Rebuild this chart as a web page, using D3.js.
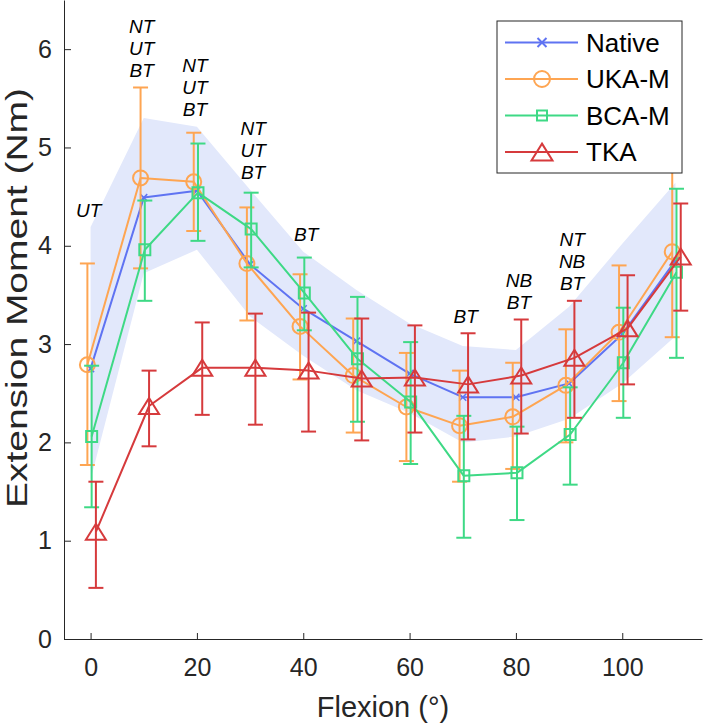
<!DOCTYPE html>
<html>
<head>
<meta charset="utf-8">
<script src="https://cdn.jsdelivr.net/npm/d3@7"></script>
<style>
  html, body { margin: 0; padding: 0; background: #fff; }
  svg { display: block; font-family: "Liberation Sans", Arial, Helvetica, sans-serif; }
  .axis path, .axis line { stroke: #262626; stroke-width: 1; }
  .axis text { fill: #262626; font-size: 25px; }
  .annot { font-style: italic; font-size: 19px; fill: #000; }
</style>
</head>
<body>
<svg id="chart"></svg>
<script>
const WIDTH = 703;
const HEIGHT = 725;
const MARGIN = { top: 0, right: 1, bottom: 86, left: 64 };

// flexion angles
const flexion = [0, 10, 20, 30, 40, 50, 60, 70, 80, 90, 100, 110];

// Native mean and shaded band
const nativeMean  = [2.75, 4.49, 4.56, 3.81, 3.36, 3.03, 2.70, 2.46, 2.46, 2.60, 3.10, 3.85];
const nativeUpper = [4.19, 5.30, 5.21, 4.57, 3.94, 3.55, 3.21, 2.98, 2.94, 3.38, 4.02, 4.64];
const nativeLower = [1.62, 3.72, 3.96, 3.28, 2.88, 2.53, 2.30, 2.00, 2.06, 2.24, 2.60, 3.08];

// UKA-M
const ukaMean  = [2.79, 4.69, 4.65, 3.82, 3.18, 2.68, 2.36, 2.17, 2.26, 2.58, 3.12, 3.94];
const ukaUpper = [3.82, 5.61, 5.15, 4.39, 3.71, 3.26, 2.91, 2.73, 2.81, 3.15, 3.80, 4.85];
const ukaLower = [1.77, 3.77, 4.15, 3.24, 2.64, 2.10, 1.81, 1.60, 1.73, 2.00, 2.42, 3.07];

// BCA-M
const bcaMean  = [2.06, 3.96, 4.54, 4.17, 3.52, 2.85, 2.41, 1.66, 1.69, 2.08, 2.81, 3.73];
const bcaUpper = [2.78, 4.46, 5.04, 4.54, 3.88, 3.48, 3.02, 2.27, 2.16, 2.56, 3.37, 4.58];
const bcaLower = [1.34, 3.44, 4.05, 3.78, 3.14, 2.21, 1.78, 1.03, 1.21, 1.57, 2.25, 2.86];

// TKA
const tkaMean  = [1.09, 2.37, 2.76, 2.76, 2.73, 2.65, 2.66, 2.59, 2.68, 2.86, 3.16, 3.89];
const tkaUpper = [1.60, 2.73, 3.22, 3.31, 3.32, 3.26, 3.19, 3.11, 3.25, 3.44, 3.70, 4.43];
const tkaLower = [0.52, 1.96, 2.28, 2.18, 2.11, 2.02, 2.10, 2.03, 2.09, 2.25, 2.59, 3.34];

// significance labels
const annotFlexion = [0, 10, 20, 30, 40, 70, 80, 90];
const annotLabels = [
  ['UT'],
  ['NT', 'UT', 'BT'],
  ['NT', 'UT', 'BT'],
  ['NT', 'UT', 'BT'],
  ['BT'],
  ['BT'],
  ['NB', 'BT'],
  ['NT', 'NB', 'BT']
];

const xTicks = [0, 20, 40, 60, 80, 100];
const yTicks = [0, 1, 2, 3, 4, 5, 6];

const series = [
  { name: 'Native', color: '#5f73f2', marker: 'x', shift: 0, mean: nativeMean, upper: null, lower: null },
  { name: 'UKA-M', color: '#fea552', marker: 'circle', shift: -0.6, mean: ukaMean, upper: ukaUpper, lower: ukaLower },
  { name: 'BCA-M', color: '#3ed985', marker: 'square', shift: 0.2, mean: bcaMean, upper: bcaUpper, lower: bcaLower },
  { name: 'TKA', color: '#d63a3c', marker: 'triangle', shift: 1, mean: tkaMean, upper: tkaUpper, lower: tkaLower }
];

const svg = d3.select('#chart').attr('width', WIDTH).attr('height', HEIGHT);

const x = d3.scaleLinear().domain([-5, 115]).range([MARGIN.left, WIDTH - MARGIN.right]);
const y = d3.scaleLinear().domain([0, 6.5]).range([HEIGHT - MARGIN.bottom, MARGIN.top]);

function markerPath(type, s) {
  if (type === 'x') {
    const h = s * 0.5;
    return `M${-h},${-h}L${h},${h}M${-h},${h}L${h},${-h}`;
  }
  if (type === 'circle') {
    const r = s * 0.5;
    return `M${r},0A${r},${r} 0 1,1 ${-r},0A${r},${r} 0 1,1 ${r},0Z`;
  }
  if (type === 'square') {
    const h = s * 0.5;
    return `M${-h},${-h}H${h}V${h}H${-h}Z`;
  }
  // triangle
  const w = s * 0.5, hh = s * 0.4;
  return `M0,${-hh}L${w},${hh}L${-w},${hh}Z`;
}
const markerSize = { x: 7, circle: 15, square: 11, triangle: 20 };

// band
const bandData = flexion.map((f, i) => ({ f, lo: nativeLower[i], hi: nativeUpper[i] }));
svg.append('path')
  .datum(bandData)
  .attr('fill', '#e2e8fb')
  .attr('d', d3.area().x(d => x(d.f)).y0(d => y(d.lo)).y1(d => y(d.hi)));

// series
const gSeries = svg.append('g');
series.forEach(s => {
  const g = gSeries.append('g');
  const pts = flexion.map((f, i) => ({
    f: f + s.shift,
    m: s.mean[i],
    hi: s.upper ? s.upper[i] : null,
    lo: s.lower ? s.lower[i] : null
  }));
  g.append('path')
    .datum(pts)
    .attr('fill', 'none')
    .attr('stroke', s.color)
    .attr('stroke-width', 2)
    .attr('stroke-linejoin', 'round')
    .attr('d', d3.line().x(d => x(d.f)).y(d => y(d.m)));

  if (s.upper) {
    const cap = 7.5;
    const eb = g.selectAll('g.eb').data(pts).enter().append('g').attr('class', 'eb')
      .attr('stroke', s.color).attr('stroke-width', 2);
    eb.append('line')
      .attr('x1', d => x(d.f)).attr('x2', d => x(d.f))
      .attr('y1', d => y(d.lo)).attr('y2', d => y(d.hi));
    eb.append('line')
      .attr('x1', d => x(d.f) - cap).attr('x2', d => x(d.f) + cap)
      .attr('y1', d => y(d.hi)).attr('y2', d => y(d.hi));
    eb.append('line')
      .attr('x1', d => x(d.f) - cap).attr('x2', d => x(d.f) + cap)
      .attr('y1', d => y(d.lo)).attr('y2', d => y(d.lo));
  }

  g.selectAll('path.mk').data(pts).enter().append('path')
    .attr('class', 'mk')
    .attr('transform', d => `translate(${x(d.f)},${y(d.m)})`)
    .attr('d', markerPath(s.marker, markerSize[s.marker]))
    .attr('fill', 'none')
    .attr('stroke', s.color)
    .attr('stroke-width', s.marker === 'x' ? 1.5 : 2);
});

// axes
const axisY = d3.axisLeft(y).tickValues(yTicks).tickFormat(d3.format('d'))
  .tickSizeInner(-7).tickSizeOuter(0).tickPadding(12);
svg.append('g').attr('class', 'axis')
  .attr('transform', `translate(${MARGIN.left},0)`)
  .call(axisY);

const axisX = d3.axisBottom(x).tickValues(xTicks).tickFormat(d3.format('d'))
  .tickSizeInner(-6).tickSizeOuter(0).tickPadding(19);
svg.append('g').attr('class', 'axis')
  .attr('transform', `translate(0,${HEIGHT - MARGIN.bottom})`)
  .call(axisX);

svg.selectAll('.axis .domain').attr('stroke', '#262626');

// axis labels
svg.append('text')
  .text('Flexion (°)')
  .attr('x', (x.range()[0] + x.range()[1]) / 2)
  .attr('y', 717)
  .attr('text-anchor', 'middle')
  .attr('font-size', 29)
  .attr('fill', '#262626');

svg.append('text')
  .text('Extension Moment (Nm)')
  .attr('transform', 'translate(26.5,298) rotate(-90)')
  .attr('text-anchor', 'middle')
  .attr('font-size', 29)
  .attr('textLength', 420)
  .attr('lengthAdjust', 'spacingAndGlyphs')
  .attr('fill', '#262626');

// significance annotations, stacked above the highest whisker
annotFlexion.forEach((f, k) => {
  const i = flexion.indexOf(f);
  const top = d3.max([nativeUpper[i], ukaUpper[i], bcaUpper[i], tkaUpper[i]]);
  const labels = annotLabels[k];
  const baseY = y(top) - 17.5 + 7;
  labels.forEach((t, j) => {
    svg.append('text')
      .attr('class', 'annot')
      .attr('x', x(f) + (f >= 30 ? 3 : -2))
      .attr('y', baseY - (labels.length - 1 - j) * 22)
      .attr('text-anchor', 'middle')
      .text(t);
  });
});

// legend
const legend = svg.append('g').attr('transform', 'translate(497,21)');
legend.append('rect')
  .attr('width', 185).attr('height', 152)
  .attr('fill', '#fff').attr('stroke', '#262626').attr('stroke-width', 1);
const legendMarkerSize = { x: 9, circle: 16, square: 10, triangle: 21 };
series.forEach((s, i) => {
  const ly = 21.5 + i * 36.5;
  const row = legend.append('g').attr('transform', `translate(0,${ly})`);
  row.append('line')
    .attr('x1', 8).attr('x2', 81).attr('y1', 0).attr('y2', 0)
    .attr('stroke', s.color).attr('stroke-width', 2);
  row.append('path')
    .attr('transform', 'translate(45,0)')
    .attr('d', markerPath(s.marker, legendMarkerSize[s.marker]))
    .attr('fill', 'none').attr('stroke', s.color).attr('stroke-width', 2);
  row.append('text')
    .attr('x', 89).attr('y', 0).attr('dy', '0.36em')
    .attr('font-size', 26).attr('fill', '#000')
    .text(s.name);
});
</script>
</body>
</html>
